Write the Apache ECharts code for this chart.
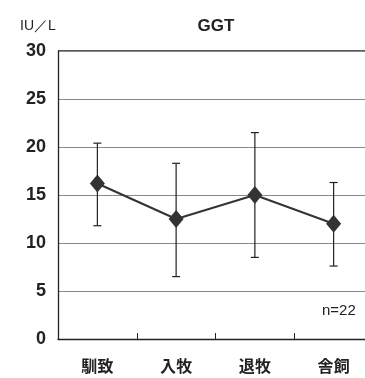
<!DOCTYPE html>
<html>
<head>
<meta charset="utf-8">
<script src="https://cdn.jsdelivr.net/npm/echarts@6/dist/echarts.min.js"></script>
<style>
html,body{margin:0;padding:0;background:#fff;}
#chart{width:365px;height:378px;}
</style>
</head>
<body>
<div id="chart"></div>
<script>
// GGT by stage: mean and range bars
var categories = ['馴致', '入牧', '退牧', '舎飼'];
var meanValues = [16.2, 12.5, 15.0, 12.0];
var upperValues = [20.4, 18.3, 21.5, 16.3];
var lowerValues = [11.8, 6.5, 8.5, 7.6];
var yTicks = [0, 5, 10, 15, 20, 25, 30];

var numFont = '"Liberation Sans Narrow", "Liberation Sans", Arial, sans-serif';
var cjkFont = '"Noto Sans CJK JP", "Noto Sans CJK SC", sans-serif';

var errorData = categories.map(function (c, i) {
  return [i, lowerValues[i], upperValues[i]];
});

var chart = echarts.init(document.getElementById('chart'));
chart.setOption({
  animation: false,
  backgroundColor: '#fff',
  grid: { left: 58, width: 315, top: 51, height: 288, containLabel: false,
          outerBoundsMode: 'none' },
  title: [
    { text: 'GGT', left: 211, top: 13, textAlign: 'center',
      textStyle: { fontFamily: numFont, fontSize: 17, fontWeight: 'bold', color: '#222' } },
    { text: 'IU／L', left: 15, top: 14,
      textStyle: { fontFamily: numFont, fontSize: 14, fontWeight: 'normal', color: '#222' } }
  ],
  xAxis: {
    type: 'category',
    data: categories,
    boundaryGap: true,
    axisLine: { lineStyle: { color: '#222', width: 1.3 } },
    axisTick: { show: true, inside: true, length: 6, lineStyle: { color: '#222' } },
    axisLabel: { fontFamily: cjkFont, fontSize: 16, fontWeight: 'bold', color: '#222', margin: 19 }
  },
  yAxis: {
    type: 'value',
    min: 0, max: 30, interval: 5,
    axisLine: { show: true, lineStyle: { color: '#222', width: 1.3 } },
    axisTick: { show: false },
    splitLine: { show: true, lineStyle: { color: '#888', width: 1 } },
    axisLabel: {
      fontFamily: numFont, fontSize: 18, fontWeight: 'bold', color: '#222', margin: 12,
      formatter: function (v) { return yTicks.indexOf(v) >= 0 ? String(v) : ''; }
    }
  },
  series: [
    {
      type: 'custom',
      data: errorData,
      z: 2,
      renderItem: function (params, api) {
        var x = api.coord([api.value(0), 0])[0];
        var lo = api.coord([api.value(0), api.value(1)])[1];
        var hi = api.coord([api.value(0), api.value(2)])[1];
        var cap = 4;
        var style = { stroke: '#222', lineWidth: 1.2 };
        return {
          type: 'group',
          children: [
            { type: 'line', shape: { x1: x, y1: lo, x2: x, y2: hi }, style: style },
            { type: 'line', shape: { x1: x - cap, y1: hi, x2: x + cap, y2: hi }, style: style },
            { type: 'line', shape: { x1: x - cap, y1: lo, x2: x + cap, y2: lo }, style: style }
          ]
        };
      }
    },
    {
      type: 'line',
      data: meanValues,
      z: 3,
      symbol: 'diamond',
      symbolSize: [15, 18],
      lineStyle: { color: '#333', width: 2 },
      itemStyle: { color: '#333' }
    }
  ],
  graphic: [
    { type: 'text', left: 322, top: 303,
      style: { text: 'n=22', font: '15px ' + numFont, fill: '#222' } },
    // top border of the plot area
    { type: 'line', shape: { x1: 58, y1: 51, x2: 365, y2: 51 },
      style: { stroke: '#222', lineWidth: 1.3 } }
  ]
});
</script>
</body>
</html>
